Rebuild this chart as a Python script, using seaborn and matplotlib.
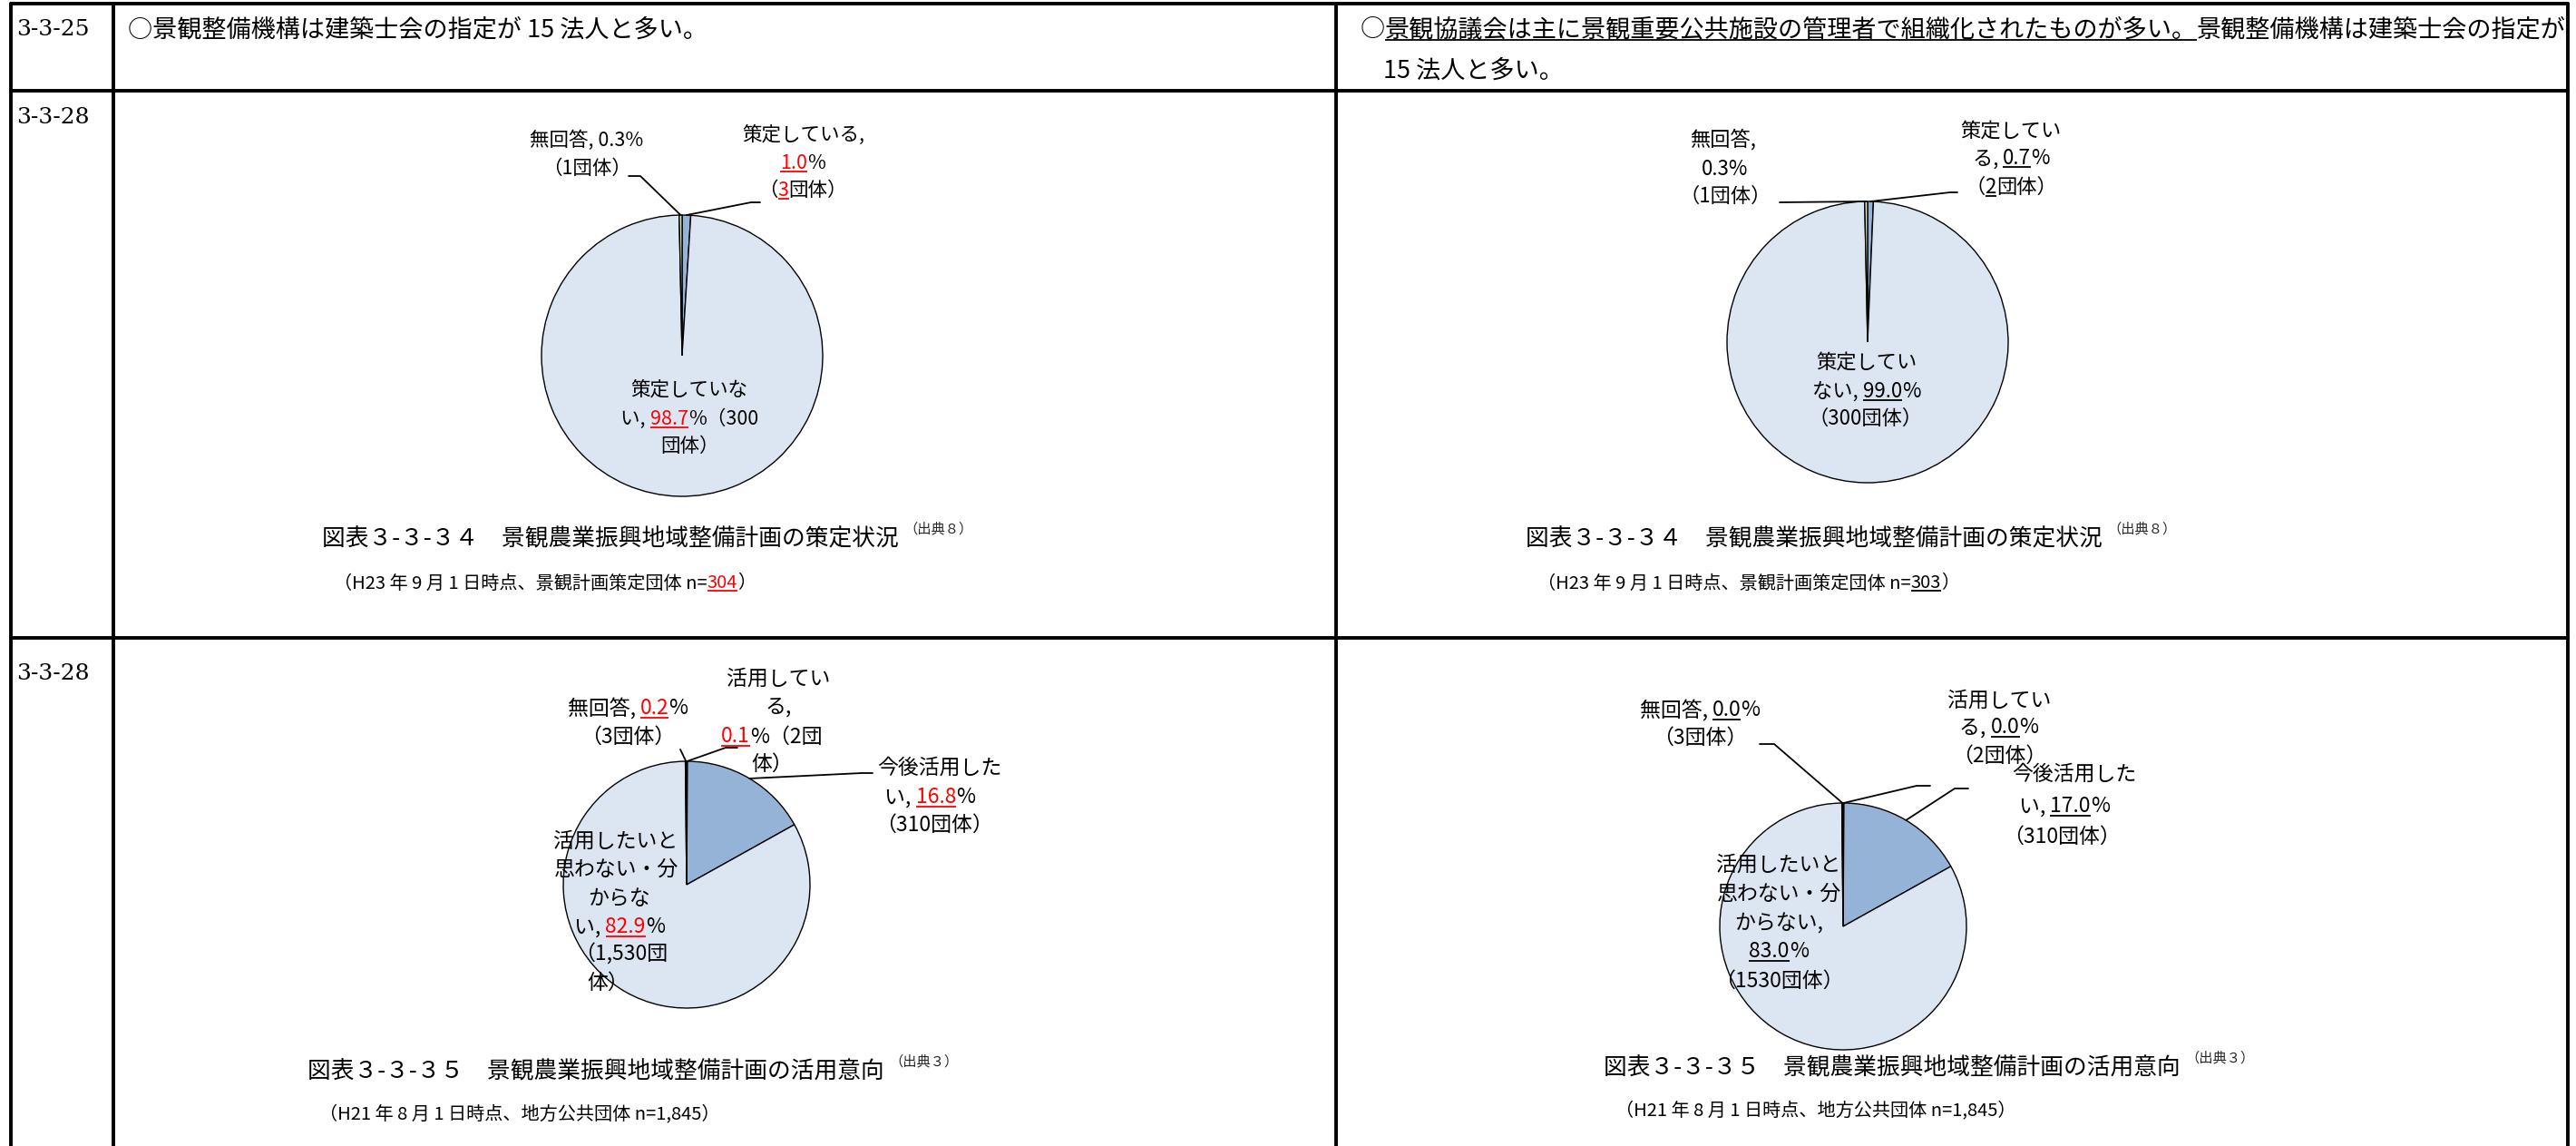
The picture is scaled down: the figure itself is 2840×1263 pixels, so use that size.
import matplotlib
matplotlib.use("Agg")
import matplotlib.pyplot as plt
import numpy as np
import seaborn as sns
from matplotlib.font_manager import FontProperties

W, H = 2840, 1263
FAM = ["Noto Sans CJK JP", "DejaVu Sans"]
SERIF = ["DejaVu Serif"]
RED = "#FF0000"

# ---- data ----
plan_labels = ["策定している", "策定していない", "無回答"]
plan_counts_old = [3, 300, 1]
plan_pct_old = [1.0, 98.7, 0.3]
plan_counts_new = [2, 300, 1]
plan_pct_new = [0.7, 99.0, 0.3]
plan_colors = ["#95B3D7", "#DCE6F2", "#D7E4BD"]

use_labels = ["活用している", "今後活用したい", "活用したいと思わない・分からない", "無回答"]
use_counts = [2, 310, 1530, 3]
use_pct_old = [0.1, 16.8, 82.9, 0.2]
use_pct_new = [0.0, 17.0, 83.0, 0.0]
use_colors = ["#4F81BD", "#95B3D7", "#DCE6F2", "#D7E4BD"]

sns.set_theme(style="white")
plt.rcParams["font.family"] = FAM

fig = plt.figure(figsize=(W / 100, H / 100), dpi=100)
bg = fig.add_axes([0, 0, 1, 1])
bg.set_xlim(0, W)
bg.set_ylim(H, 0)
bg.axis("off")
bg.set_zorder(5)  # texts and grid above the pies
R = fig.canvas.get_renderer()


def em(size):
    return size * 100 / 72


def adv(s, size, family=FAM):
    prop = FontProperties(family=family, size=size)
    w1 = R.get_text_width_height_descent("|" + s + "|", prop, ismath=False)[0]
    w0 = R.get_text_width_height_descent("||", prop, ismath=False)[0]
    return w1 - w0


def rich(x, y, parts, size, ha="center", family=FAM):
    # parts: (text, style) with style n=plain, r=red underlined, u=underlined
    widths = [adv(s, size, family) for s, _ in parts]
    x0 = x - sum(widths) / 2 if ha == "center" else x
    base = y + 0.37 * em(size)
    for (s, st), w in zip(parts, widths):
        col = RED if st == "r" else "black"
        bg.text(x0, base, s, fontsize=size, color=col, family=family,
                ha="left", va="baseline")
        if st in ("r", "u"):
            ul = base + 0.14 * em(size)
            bg.plot([x0, x0 + w], [ul, ul], color=col, lw=1.3, solid_capstyle="butt")
        x0 += w
    return x0


def draw_pie(cx, cy, r, counts, colors):
    ax = fig.add_axes([(cx - r) / W, 1 - (cy + r) / H, 2 * r / W, 2 * r / H])
    wedges, _ = ax.pie(counts, colors=colors, startangle=90, counterclock=False,
                       wedgeprops=dict(edgecolor="black", linewidth=1.0))
    ax.set_xlim(-1, 1)
    ax.set_ylim(-1, 1)
    for w in wedges:
        w.set_clip_on(False)
    return ax, wedges


def leader(ax, wedge, pts):
    t = np.deg2rad((wedge.theta1 + wedge.theta2) / 2)
    disp = ax.transData.transform((np.cos(t), np.sin(t)))
    ex, ey = bg.transData.inverted().transform(disp)
    xs = [p[0] for p in pts] + [ex]
    ys = [p[1] for p in pts] + [ey]
    bg.plot(xs, ys, color="black", lw=1.3)


def caption(x, y, title, note, y2, sub, size=18.5, sub_size=14.5):
    end = rich(x, y, [(title, "n")], size, ha="left")
    bg.text(end + 6, y - 9, note, fontsize=11, ha="left", va="center")
    rich(x + 13, y2, sub, sub_size, ha="left")


# ---- table grid ----
lw_grid = 2.8
for gx in [12, 125, 1473, 2831]:
    bg.plot([gx, gx], [4, H], color="black", lw=lw_grid)
for gy in [4, 100, 703]:
    bg.plot([12, 2831], [gy, gy], color="black", lw=lw_grid)

# ---- row texts ----
rich(18, 30, [("3-3-25", "n")], 18, ha="left", family=SERIF)
rich(18, 127, [("3-3-28", "n")], 18, ha="left", family=SERIF)
rich(18, 740, [("3-3-28", "n")], 18, ha="left", family=SERIF)

rich(141, 30, [("○景観整備機構は建築士会の指定が 15 法人と多い。", "n")], 19.5, ha="left")
rich(1500, 30, [("○", "n"),
                ("景観協議会は主に景観重要公共施設の管理者で組織化されたものが多い。", "u"),
                ("景観整備機構は建築士会の指定が", "n")], 19.5, ha="left")
rich(1525, 76, [("15 法人と多い。", "n")], 19.5, ha="left")

# ---- pie 1 (left top) ----
p, c = plan_pct_old, plan_counts_old
ax1, w1 = draw_pie(752, 392, 155, c, plan_colors)
s = 15.5
rich(647, 153, [(f"無回答, {p[2]:.1f}%", "n")], s)
rich(647, 184, [(f"（{c[2]}団体）", "n")], s)
leader(ax1, w1[2], [(693, 194), (706, 194)])
rich(886, 147, [("策定している,", "n")], s)
rich(885, 178, [(f"{p[0]:.1f}", "r"), ("%", "n")], s)
rich(885, 208, [("（", "n"), (f"{c[0]}", "r"), ("団体）", "n")], s)
leader(ax1, w1[0], [(838, 223), (828, 223)])
rich(760, 428, [("策定していな", "n")], s)
rich(760, 460, [("い, ", "n"), (f"{p[1]:.1f}", "r"), (f"%（{c[1]}", "n")], s)
rich(760, 490, [("団体）", "n")], s)

# ---- pie 2 (right top) ----
p, c = plan_pct_new, plan_counts_new
ax2, w2 = draw_pie(2059, 377, 155, c, plan_colors)
s = 16
rich(1900, 152, [("無回答,", "n")], s)
rich(1902, 185, [(f"{p[2]:.1f}%", "n")], s)
rich(1902, 215, [(f"（{c[2]}団体）", "n")], s)
leader(ax2, w2[2], [(1962, 223)])
rich(2217, 142, [("策定してい", "n")], s)
rich(2217, 173, [("る, ", "n"), (f"{p[0]:.1f}", "u"), ("%", "n")], s)
rich(2217, 205, [("（", "n"), (f"{c[0]}", "u"), ("団体）", "n")], s)
leader(ax2, w2[0], [(2158, 212), (2150, 212)])
rich(2058, 397, [("策定してい", "n")], s)
rich(2058, 430, [("ない, ", "n"), (f"{p[1]:.1f}", "u"), ("%", "n")], s)
rich(2057, 460, [(f"（{c[1]}団体）", "n")], s)

# ---- pie 3 (left bottom) ----
p, c = use_pct_old, use_counts
ax3, w3 = draw_pie(757, 975, 136, c, use_colors)
s = 16.5
rich(692, 779, [("無回答, ", "n"), (f"{p[3]:.1f}", "r"), ("%", "n")], s)
rich(692, 810, [(f"（{c[3]}団体）", "n")], s)
leader(ax3, w3[3], [(750, 826)])
rich(858, 746, [("活用してい", "n")], s)
rich(858, 777, [("る,", "n")], s)
rich(851, 810, [(f"{p[0]:.1f}", "r"), (f"%（{c[0]}団", "n")], s)
rich(851, 840, [("体）", "n")], s)
leader(ax3, w3[0], [(813, 824), (800, 824)])
rich(1036, 844, [("今後活用した", "n")], s)
rich(1025, 877, [("い, ", "n"), (f"{p[1]:.1f}", "r"), ("%", "n")], s)
rich(1030, 907, [(f"（{c[1]}団体）", "n")], s)
leader(ax3, w3[1], [(962, 852), (950, 852)])
rich(679, 925, [("活用したいと", "n")], s)
rich(679, 956, [("思わない・分", "n")], s)
rich(683, 989, [("からな", "n")], s)
rich(683, 1020, [("い, ", "n"), (f"{p[2]:.1f}", "r"), ("%", "n")], s)
rich(685, 1050, [(f"（{c[2]:,}団", "n")], s)
rich(670, 1081, [("体）", "n")], s)

# ---- pie 4 (right bottom) ----
p, c = use_pct_new, use_counts
ax4, w4 = draw_pie(2032, 1021, 136, c, use_colors)
rich(1874, 781, [("無回答, ", "n"), (f"{p[3]:.1f}", "u"), ("%", "n")], s)
rich(1874, 811, [(f"（{c[3]}団体）", "n")], s)
leader(ax4, w4[3], [(1940, 820), (1956, 820)])
rich(2204, 770, [("活用してい", "n")], s)
rich(2204, 800, [("る, ", "n"), (f"{p[0]:.1f}", "u"), ("%", "n")], s)
rich(2204, 831, [(f"（{c[0]}団体）", "n")], s)
leader(ax4, w4[0], [(2128, 866), (2113, 866)])
rich(2287, 851, [("今後活用した", "n")], s)
rich(2276, 887, [("い, ", "n"), (f"{p[1]:.1f}", "u"), ("%", "n")], s)
rich(2273, 920, [(f"（{c[1]}団体）", "n")], s)
leader(ax4, w4[1], [(2170, 869), (2155, 869)])
rich(1961, 951, [("活用したいと", "n")], s)
rich(1961, 983, [("思わない・分", "n")], s)
rich(1961, 1016, [("からない,", "n")], s)
rich(1961, 1047, [(f"{p[2]:.1f}", "u"), ("%", "n")], s)
rich(1961, 1079, [(f"（{c[2]}団体）", "n")], s)

# ---- captions ----
t34 = "図表３-３-３４　景観農業振興地域整備計画の策定状況"
t35 = "図表３-３-３５　景観農業振興地域整備計画の活用意向"
n_old, n_new, n_use = sum(plan_counts_old), sum(plan_counts_new), sum(use_counts)
caption(355, 592, t34, "（出典８）", 641,
        [("（H23 年 9 月 1 日時点、景観計画策定団体 n=", "n"), (f"{n_old}", "r"), ("）", "n")])
caption(1682, 592, t34, "（出典８）", 641,
        [("（H23 年 9 月 1 日時点、景観計画策定団体 n=", "n"), (f"{n_new}", "u"), ("）", "n")])
caption(339, 1179, t35, "（出典３）", 1226,
        [(f"（H21 年 8 月 1 日時点、地方公共団体 n={n_use:,}）", "n")])
caption(1768, 1175, t35, "（出典３）", 1222,
        [(f"（H21 年 8 月 1 日時点、地方公共団体 n={n_use:,}）", "n")])

fig.savefig("out.png", dpi=100)
